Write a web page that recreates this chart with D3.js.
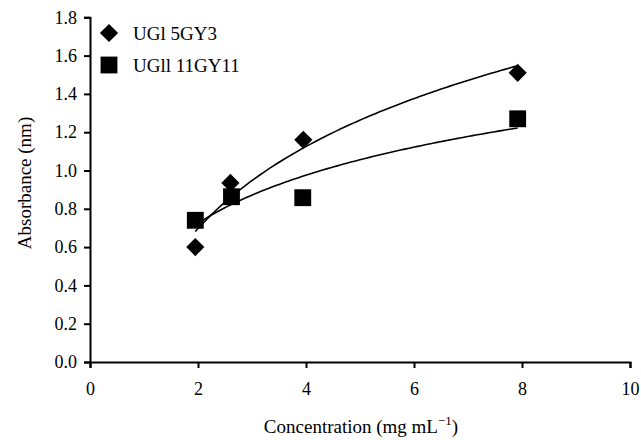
<!DOCTYPE html>
<html>
<head>
<meta charset="utf-8">
<script src="https://cdn.jsdelivr.net/npm/d3@7"></script>
<style>
  html, body { margin: 0; padding: 0; background: #fff; }
  svg, svg text { font-family: "Liberation Serif", "Times New Roman", serif !important; }
  svg { display: block; }
</style>
</head>
<body>
<svg id="chart" width="641" height="440"></svg>
<script>
// ---- data ----
const seriesNames = ["UGl 5GY3", "UGll 11GY11"];
const xUGl = [1.95, 2.6, 3.95, 7.92];
const yUGl = [0.60, 0.935, 1.16, 1.51];
const xUGll = [1.95, 2.62, 3.94, 7.92];
const yUGll = [0.74, 0.863, 0.858, 1.27];
const xTicks = [0, 2, 4, 6, 8, 10];
const yTicks = [0, 0.2, 0.4, 0.6, 0.8, 1.0, 1.2, 1.4, 1.6, 1.8];
const xTitle = "Concentration (mg mL";
const yTitle = "Absorbance (nm)";

// ---- layout ----
const svg = d3.select("#chart");
const x = d3.scaleLinear().domain([0, 10]).range([90, 630]);
const y = d3.scaleLinear().domain([0, 1.8]).range([362, 17.3]);

// log trend fit: y = a ln(x) + b
function logFit(xs, ys) {
  const lx = xs.map(Math.log);
  const mx = d3.mean(lx), my = d3.mean(ys);
  let sxy = 0, sxx = 0;
  lx.forEach((v, i) => { sxy += (v - mx) * (ys[i] - my); sxx += (v - mx) * (v - mx); });
  const a = sxy / sxx, b = my - a * mx;
  return v => a * Math.log(v) + b;
}

const series = [
  { name: seriesNames[0], xs: xUGl, ys: yUGl, shape: d3.symbolDiamond2 },
  { name: seriesNames[1], xs: xUGll, ys: yUGll, shape: d3.symbolSquare2 }
];
const symSize = s => s.shape === d3.symbolSquare2 ? 19 * 19 : 20.5 * 20.5 / 2;

// axes
const gx = svg.append("g").attr("transform", `translate(0,${y(0)})`)
  .call(d3.axisBottom(x).tickValues(xTicks).tickFormat(d3.format("d")).tickSizeOuter(0).tickSize(6).tickPadding(14));
const gy = svg.append("g").attr("transform", `translate(${x(0)},0)`)
  .call(d3.axisLeft(y).tickValues(yTicks).tickFormat(d3.format(".1f")).tickSizeOuter(0).tickSize(6).tickPadding(7));
[gx, gy].forEach(g => {
  g.attr("font-family", null).attr("font-size", null);
  g.selectAll("path.domain").attr("stroke", "#000").attr("stroke-width", 2);
  g.selectAll(".tick line").attr("stroke", "#000").attr("stroke-width", 2);
  g.selectAll(".tick text").attr("fill", "#000").style("font-size", "18px");
});

// trend lines
const line = d3.line().x(d => x(d[0])).y(d => y(d[1]));
series.forEach(s => {
  const f = logFit(s.xs, s.ys);
  const x0 = d3.min(s.xs), x1 = d3.max(s.xs);
  const pts = d3.range(0, 101).map(i => { const v = x0 + (x1 - x0) * i / 100; return [v, f(v)]; });
  svg.append("path").datum(pts).attr("d", line)
    .attr("fill", "none").attr("stroke", "#000").attr("stroke-width", 1.6);
});

// markers
series.forEach(s => {
  svg.append("g").selectAll("path").data(s.xs.map((v, i) => [v, s.ys[i]])).join("path")
    .attr("transform", d => `translate(${x(d[0])},${y(d[1])})`)
    .attr("d", d3.symbol().type(s.shape).size(symSize(s))())
    .attr("fill", "#000");
});

// legend
const leg = svg.append("g");
series.forEach((s, i) => {
  const cy = 33 + i * 32;
  leg.append("path").attr("transform", `translate(109,${cy})`)
    .attr("d", d3.symbol().type(s.shape).size(symSize(s))()).attr("fill", "#000");
  leg.append("text").attr("x", 133).attr("y", cy + 7).style("font-size", "19px")
    .attr("fill", "#000").text(s.name);
});

// axis titles
const xt = svg.append("text").attr("x", 361).attr("y", 433).attr("text-anchor", "middle")
  .style("font-size", "19px").attr("fill", "#000");
xt.append("tspan").text(xTitle);
xt.append("tspan").style("font-size", "13px").attr("dy", -8).text("\u22121");
xt.append("tspan").attr("dy", 8).text(")");

svg.append("text").attr("transform", "translate(31,183) rotate(-90)").attr("text-anchor", "middle")
  .style("font-size", "19px").attr("fill", "#000").text(yTitle);
</script>
</body>
</html>
